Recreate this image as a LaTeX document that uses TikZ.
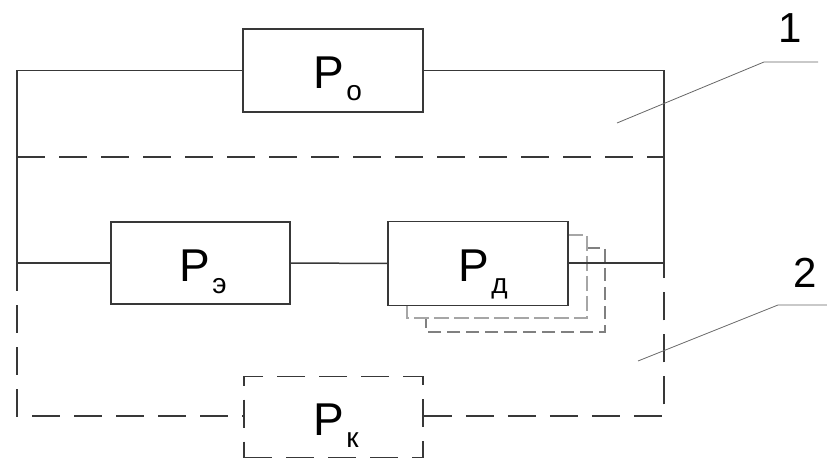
\documentclass[tikz,border=0pt]{standalone}
\usepackage{fontspec}
\setmainfont{Liberation Sans}
\usetikzlibrary{calc}

% subscript letter of a block label
\newcommand{\blksub}[1]{\kern2pt\raisebox{-12pt}{\fontsize{28}{30}\selectfont #1}}

\begin{document}
\begin{tikzpicture}[x=1pt,y=-1pt,
  wire/.style={draw=black!78,line width=1.5pt},
  dwire/.style={wire,dash pattern=on 28pt off 14pt},
  block/.style={wire,fill=white,rectangle,inner sep=0pt,minimum width=180pt,minimum height=83pt},
  dblock/.style={block,dash pattern=on 28pt off 14pt},
  ghostA/.style={draw=black!35,line width=1.3pt,dash pattern=on 15pt off 5pt},
  ghostB/.style={draw=black!50,line width=1.3pt,dash pattern=on 13pt off 6pt},
  leader/.style={draw=black!60,line width=0.8pt},
  lbl/.style={anchor=base west,inner sep=0pt,font=\fontsize{46}{48}\selectfont},
  num/.style={inner sep=0pt,font=\fontsize{42}{44}\selectfont}]

\useasboundingbox (0,0) rectangle (827,462);

% junction points of the outer frame
\coordinate (tl) at (17,70.5);
\coordinate (tr) at (664,70.5);
\coordinate (sl) at (17,157);
\coordinate (sr) at (664,157);
\coordinate (ml) at (17,263);
\coordinate (mr) at (664,263);
\coordinate (bl) at (17,416);
\coordinate (br) at (664,416);

% stacked copies behind the Pd block
\fill[white] (426,248) rectangle (605,332);
\draw[ghostB] (587,248) -- (605,248) -- (605,332) -- (426,332) -- (426,318);
\fill[white] (407,235) rectangle (587,318);
\draw[ghostA] (568,235) -- (587,235) -- (587,318) -- (407,318) -- (407,306);

% blocks
\node[block] (po) at (333,70.5) {};
\node[block,minimum width=179pt,minimum height=82pt] (pe) at (200.5,263) {};
\node[block,minimum height=84pt] (pd) at (478,263.5) {};
\node[dblock,minimum width=179pt,minimum height=81pt] (pk) at (333.5,417) {};

% block labels
\node[lbl] (tpo) at ($(po.center)+(-19.5,18.5)$) {P\blksub{о}};
\node[lbl] (tpe) at ($(pe.center)+(-21,19)$) {P\blksub{э}};
\node[lbl] (tpd) at ($(pd.center)+(-19.5,18.5)$) {P\blksub{д}};
\node[lbl] (tpk) at ($(pk.center)+(-20,18)$) {P\blksub{к}};

% solid connections
\draw[wire] (po.west) -- (tl) -- (ml) -- (pe.west);
\draw[wire] (po.east) -- (tr) -- (mr);
\draw[wire] (pe.east) -- (pd.west);
\draw[wire] (pd.east |- mr) -- (mr);

% dashed connections
\draw[dwire] (sl) -- (sr);
\draw[dwire] (ml) -- (bl) -- (pk.west |- bl);
\draw[dwire] (pk.east |- br) -- (br) -- (mr);

% callouts
\coordinate (a1) at (617,123);
\coordinate (k1) at (764,62);
\coordinate (e1) at (818,62);
\coordinate (a2) at (638,361);
\coordinate (k2) at (778,305);
\coordinate (e2) at (827,305);
\draw[leader] (a1) -- (k1) -- (e1);
\draw[leader] (a2) -- (k2) -- (e2);
\node[num] (n1) at (790,28) {1};
\node[num] (n2) at (805,272.5) {2};
\end{tikzpicture}
\end{document}
